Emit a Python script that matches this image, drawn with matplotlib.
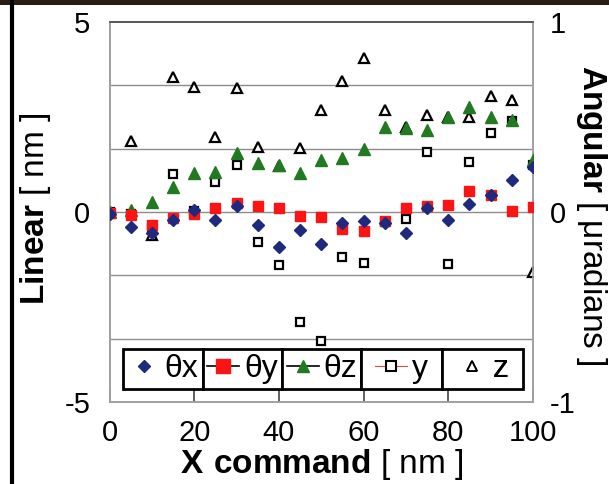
import matplotlib
matplotlib.use("Agg")
import matplotlib.pyplot as plt
from matplotlib.lines import Line2D
from matplotlib.patches import Rectangle
import numpy as np

plt.rcParams['font.family'] = ['Liberation Sans', 'DejaVu Sans']
plt.rcParams['mathtext.fontset'] = 'custom'
plt.rcParams['mathtext.rm'] = 'Liberation Sans'
plt.rcParams['mathtext.bf'] = 'Liberation Sans:bold'
plt.rcParams['axes.unicode_minus'] = False

# X command [nm]
x_cmd = [0, 5, 10, 15, 20, 25, 30, 35, 40, 45, 50,
         55, 60, 65, 70, 75, 80, 85, 90, 95, 100]

# angular errors [urad] (right axis)
theta_x = [-0.01, -0.078, -0.11, -0.04, 0.01, -0.042, 0.03, -0.068, -0.184, -0.094, -0.168,
           -0.06, -0.048, -0.06, -0.11, 0.02, -0.042, 0.042, 0.09, 0.168, 0.236]
theta_y = [-0.006, -0.016, -0.068, -0.032, -0.01, 0.02, 0.046, 0.032, 0.02, -0.02, -0.026,
           -0.09, -0.1, -0.046, 0.02, 0.032, 0.036, 0.11, 0.09, 0.006, 0.026]
theta_z = [0.0, 0.01, 0.054, 0.132, 0.206, 0.21, 0.31, 0.258, 0.248, 0.206, 0.274,
           0.284, 0.332, 0.448, 0.44, 0.432, 0.5, 0.552, 0.5, 0.484, 0.274]

# linear errors [nm] (left axis)
lin_y = [0.0, -0.05, -0.45, 1.0, 0.02, 0.79, 1.24, -0.79, -1.39, -2.89, -3.39,
         -1.18, -1.34, -0.25, -0.18, 1.58, -1.37, 1.32, 2.08, 2.4, 1.25]
lin_z = [0.0, 1.87, -0.6, 3.55, 3.29, 1.97, 3.26, 1.71, 1.2, 1.68, 2.68,
         3.45, 4.05, 2.68, 2.24, 2.55, 2.5, 2.5, 3.05, 2.95, -1.58]

legend_labels = ['\u03b8x', '\u03b8y', '\u03b8z', 'y', 'z']

navy = '#1f2a7e'
red = '#fa1414'
green = '#217a21'

fig = plt.figure(figsize=(6.09, 4.84), dpi=100)
ax = fig.add_axes([0.18, 0.1694, 0.695, 0.7851])
ax2 = ax.twinx()

ax.set_xlim(0, 100)
ax.set_ylim(-5, 5)
ax2.set_ylim(-1, 1)

# grid lines every 1/6 of the range
grid_pos = np.linspace(-5, 5, 7)
for g in grid_pos[1:-1]:
    ax.axhline(g, color='#8c8c8c', lw=1.0, zorder=0)

ax.plot(x_cmd, lin_z, ls='none', marker='^', ms=7, mfc='white', mec='black', mew=1.6, zorder=3)
ax.plot(x_cmd, lin_y, ls='none', marker='s', ms=6, mfc='white', mec='black', mew=1.6, zorder=3)
ax2.plot(x_cmd, theta_z, ls='none', marker='^', ms=8, color=green, mec=green, zorder=3)
ax2.plot(x_cmd, theta_y, ls='none', marker='s', ms=7, color=red, mec=red, zorder=3)
ax2.plot(x_cmd, theta_x, ls='none', marker='D', ms=6, color=navy, mec=navy, zorder=3)

# ticks
ax.set_xticks([0, 20, 40, 60, 80, 100])
ax.tick_params(axis='x', direction='in', length=9, width=1.2, color='#444444',
               labelsize=21, pad=12)
ax.set_yticks([-5, 0, 5])
ax.tick_params(axis='y', length=0, labelsize=21, pad=14)
ax2.set_yticks([-1, 0, 1])
ax2.tick_params(axis='y', length=0, labelsize=21, pad=12)

for a in (ax, ax2):
    for s in a.spines.values():
        s.set_color('#a0a0a0')
        s.set_linewidth(1.2)
    a.spines['top'].set_color('#555555')

# labels
ax.set_xlabel(r'$\mathbf{X\ command}$ [ nm ]', fontsize=24, labelpad=0)
fig.text(36 / 609, 1 - 209 / 484, r'$\mathbf{Linear}$ [ nm ]', fontsize=24,
         rotation=90, ha='center', va='center')
fig.text(592 / 609, 1 - 215 / 484, r'$\mathbf{Angular}$ [ ' + '\u03bc' + 'radians ]',
         fontsize=24, rotation=270, ha='center', va='center')

# legend: boxed cells along the bottom
cells = [3.2, 22.1, 40.8, 59.5, 78.5, 97.6]
ybot, ytop = -4.66, -3.6
handles = [
    Line2D([], [], ls='none', marker='D', ms=6, color=navy),
    Line2D([], [], ls='-', color='black', lw=1.2, marker='s', ms=10, mfc=red, mec=red),
    Line2D([], [], ls='-', color='black', lw=1.2, marker='^', ms=9, mfc=green, mec=green),
    Line2D([], [], ls='-', color='#d05050', lw=0.8, marker='s', ms=7, mfc='white', mec='black', mew=1.5),
    Line2D([], [], ls='none', marker='^', ms=7, mfc='white', mec='black', mew=1.3),
]
for i in range(5):
    ax2.add_patch(Rectangle((cells[i], ybot), cells[i + 1] - cells[i], ytop - ybot,
                            transform=ax.transData, facecolor='white', edgecolor='black',
                            lw=2, zorder=5))
    leg = ax2.legend(handles=[handles[i]], labels=[legend_labels[i]], loc='center',
                     bbox_to_anchor=((cells[i] + cells[i + 1]) / 2, (ybot + ytop) / 2),
                     bbox_transform=ax.transData, frameon=False, fontsize=23,
                     handlelength=1.0, handletextpad=0.15, borderpad=0, borderaxespad=0)
    leg.set_zorder(6)
    ax2.add_artist(leg)

# scan border remnants
fig.add_artist(Rectangle((0, 1 - 5 / 484), 1, 5 / 484, transform=fig.transFigure,
                         facecolor='#2b1d14', edgecolor='none'))
fig.add_artist(Line2D([12 / 609, 12 / 609], [0, 1], transform=fig.transFigure,
                      color='black', lw=3))

fig.savefig('out.png', dpi=100)
